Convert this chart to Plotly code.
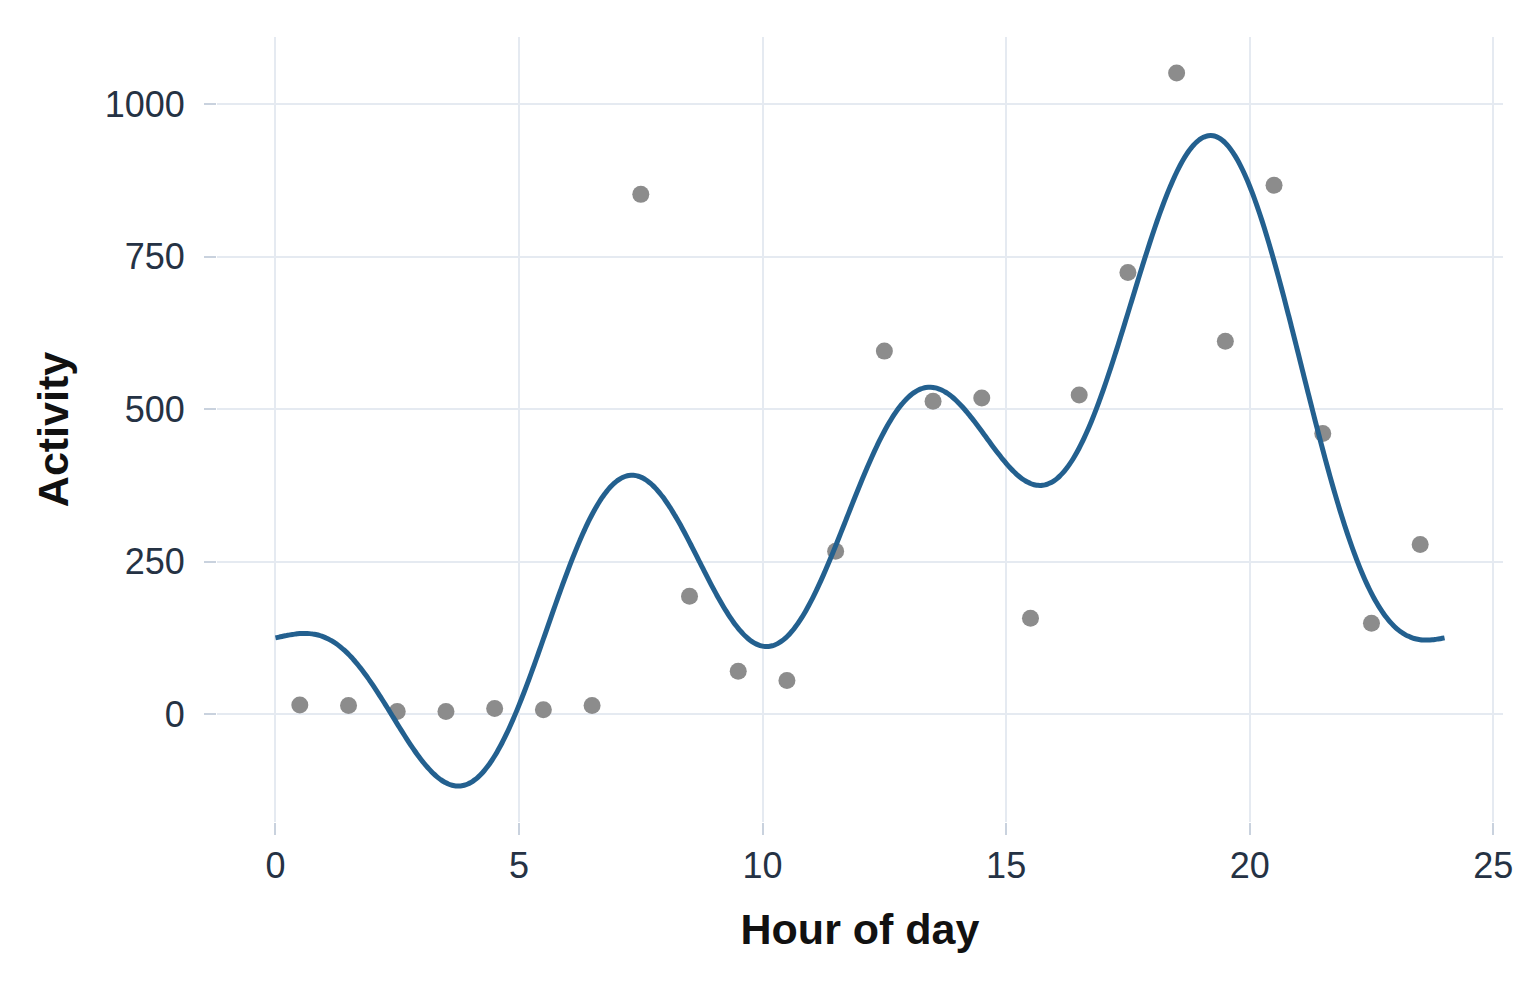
import numpy as np
import plotly.graph_objects as go

# Observed activity by hour (bin centres)
hours = [0.5, 1.5, 2.5, 3.5, 4.5, 5.5, 6.5, 7.5, 8.5, 9.5, 10.5, 11.5,
         12.5, 13.5, 14.5, 15.5, 16.5, 17.5, 18.5, 19.5, 20.5, 21.5, 22.5, 23.5]
activity = [15, 14, 4, 4, 9, 7, 14, 852, 193, 70, 55, 267,
            595, 513, 518, 157, 523, 724, 1051, 611, 867, 460, 149, 278]

x_ticks = [0, 5, 10, 15, 20, 25]
y_ticks = [0, 250, 500, 750, 1000]

# Harmonic (Fourier) regression fitted to the observations, period 24 h
K = 4
h = np.array(hours)
a = np.array(activity, dtype=float)
def design(t):
    cols = [np.ones_like(t)]
    for k in range(1, K + 1):
        cols.append(np.cos(2 * np.pi * k * t / 24))
        cols.append(np.sin(2 * np.pi * k * t / 24))
    return np.column_stack(cols)
coef, *_ = np.linalg.lstsq(design(h), a, rcond=None)
grid = np.linspace(0, 24, 481)
fit = design(grid) @ coef

FONT = "Liberation Sans, Arial, sans-serif"
fig = go.Figure()
fig.add_trace(go.Scatter(x=hours, y=activity, mode="markers",
                         marker=dict(color="#8c8c8c", size=17, line=dict(width=0)),
                         showlegend=False))
fig.add_trace(go.Scatter(x=grid, y=fit, mode="lines",
                         line=dict(color="#23608f", width=5, shape="spline",
                                   simplify=False),
                         showlegend=False))

axis_common = dict(showgrid=True, gridcolor="#e5eaf1", gridwidth=2,
                   zeroline=False, showline=False,
                   ticks="outside", ticklen=12, tickwidth=2, tickcolor="#c9d2de",
                   tickfont=dict(family=FONT, size=36, color="#253244"))
fig.update_xaxes(**axis_common, range=[-1.2, 25.2], tickvals=x_ticks,
                 ticklabelstandoff=0,
                 title=dict(text="<b>Hour of day</b>",
                            font=dict(family=FONT, size=43, color="#111111"),
                            standoff=28))
fig.update_yaxes(**axis_common, range=[-177, 1110], tickvals=y_ticks,
                 ticklabelstandoff=12,
                 title=dict(text="<b>Activity</b>",
                            font=dict(family=FONT, size=43, color="#111111"),
                            standoff=22))
fig.update_layout(width=1540, height=990, template="none",
                  plot_bgcolor="white", paper_bgcolor="white",
                  margin=dict(l=217, r=37, t=37, b=168))
fig.write_html("out.html")
